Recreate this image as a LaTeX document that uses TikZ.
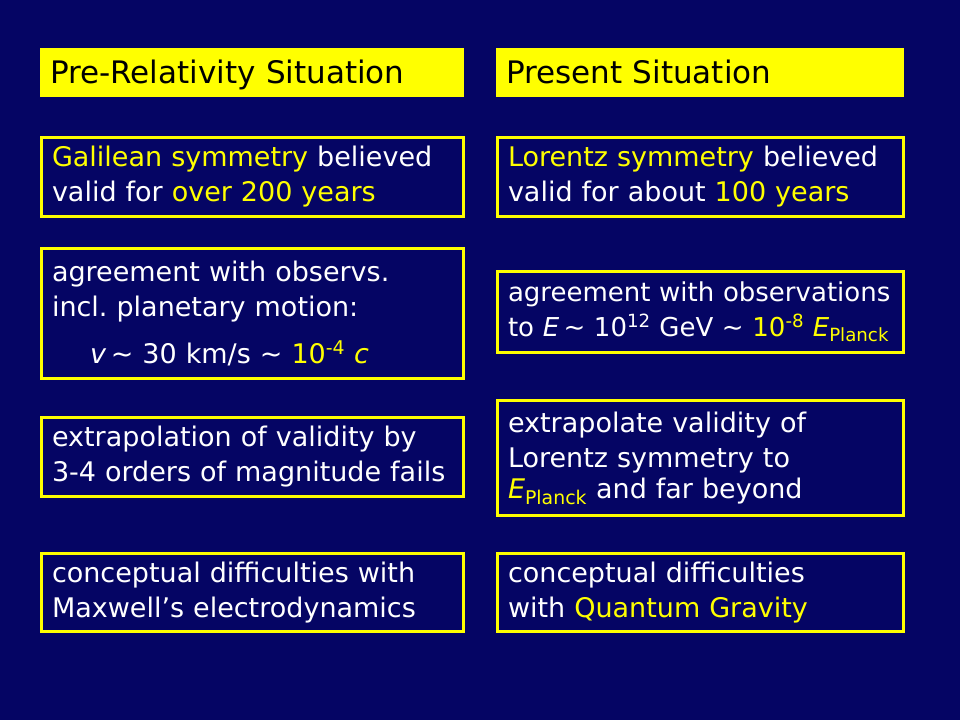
\documentclass[tikz,border=0pt]{standalone}
\usepackage{fontspec}
\setmainfont{DejaVu Sans}
\usepackage{xcolor}
\usetikzlibrary{positioning}
\definecolor{slidebg}{RGB}{5,5,100}
\definecolor{hilite}{RGB}{255,255,0}
\newcommand{\hl}[1]{\textcolor{hilite}{#1}}
\newcommand{\Epl}{\textit{E}\textsubscript{Planck}}
\newcommand{\tld}{\textasciitilde}

\begin{document}
\begin{tikzpicture}[
            x=1pt, y=-1pt,
            header/.style={fill=hilite, text=black, anchor=west, align=left,
                inner xsep=10pt, minimum height=49pt, text height=23pt, text depth=2pt,
                font=\fontsize{31}{36}\selectfont},
            infobox/.style={draw=hilite, line width=3pt, text=white, anchor=west, align=left,
                inner xsep=10.5pt, font=\fontsize{27}{35}\selectfont},
            leftbox/.style={infobox, minimum width=422pt, text width=401pt},
            rightbox/.style={infobox, minimum width=406pt, text width=385pt},
        ]
            \fill[slidebg] (0,0) rectangle (960,720);
            \node[header, minimum width=424pt, text width=404pt] (preHead) at (40,72.5) {Pre-Relativity Situation};
            \node[header, minimum width=408pt, text width=388pt] (nowHead) at (496,72.5) {Present Situation};

            \node[leftbox, minimum height=79pt] (preSym) at (40,177)
                {\hl{Galilean symmetry} believed\\ valid for \hl{over 200 years}};
            \node[rightbox, minimum height=79pt] (nowSym) at (496,177)
                {\hl{Lorentz symmetry} believed\\ valid for about \hl{100 years}};

            \node[leftbox, minimum height=130pt] (preObs) at (40,313.5)
                {agreement with observs.\\ incl.\ planetary motion:\\[12pt]
                \hspace*{38pt}\textit{v}\,\tld{} 30 km/s \tld{} \hl{10\textsuperscript{-4} \textit{c}}};
            \node[rightbox, minimum height=81pt, font=\fontsize{26}{35}\selectfont] (nowObs) at (496,312)
                {\mbox{agreement with observations}\\
                \mbox{to \textit{E}\,\tld{} 10\textsuperscript{12} GeV \tld{} \hl{10\textsuperscript{-8} \Epl}}};

            \node[leftbox, minimum height=79pt] (preExt) at (40,457)
                {extrapolation of validity by\\ \mbox{3-4 orders of magnitude fails}};
            \node[rightbox, minimum height=115pt] (nowExt) at (496,458)
                {extrapolate validity of\\ Lorentz symmetry to\\[-4pt] \hl{\Epl} and far beyond};

            \node[leftbox, minimum height=78pt] (preDiff) at (40,592.5)
                {conceptual difficulties with\\ Maxwell's electrodynamics};
            \node[rightbox, minimum height=78pt] (nowDiff) at (496,592.5)
                {conceptual difficulties\\ with \hl{Quantum Gravity}};
        \end{tikzpicture}
\end{document}
